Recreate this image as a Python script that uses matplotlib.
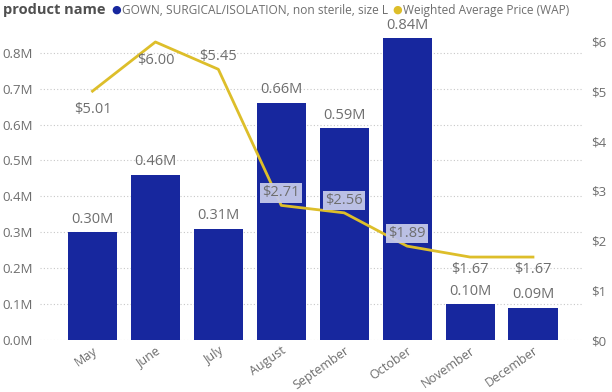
import numpy as np
import matplotlib.pyplot as plt

months = ["May", "June", "July", "August", "September", "October", "November", "December"]
quantity_m = [0.30, 0.46, 0.31, 0.66, 0.59, 0.84, 0.10, 0.09]
wap = [5.01, 6.00, 5.45, 2.71, 2.56, 1.89, 1.67, 1.67]
left_ticks = [0.0, 0.1, 0.2, 0.3, 0.4, 0.5, 0.6, 0.7, 0.8]
right_ticks = [0, 1, 2, 3, 4, 5, 6]

bar_color = "#17279E"
line_color = "#DDBE2A"
grey = "#6E6E6E"

plt.rcParams['font.family'] = ['Open Sans', 'DejaVu Sans']

fig = plt.figure(figsize=(6.12, 3.92), dpi=100)
# plot area spans x = 40..583 px, y = 38..340 px
ax = fig.add_axes([40 / 612, 52 / 392, 543 / 612, 302 / 392])
ax2 = ax.twinx()

x = np.arange(len(months))
ax.bar(x, quantity_m, width=0.78, color=bar_color, zorder=2)
ax.set_xlim(-0.834, 7.795)
ax.set_ylim(0, 0.841)
ax.set_yticks(left_ticks)
ax.set_yticklabels([f"{v:.1f}M" for v in left_ticks])
ax.grid(axis='y', linestyle=(0, (1, 2)), color="#C8C8C8", linewidth=0.8, zorder=0)
ax.set_xticks(x)
ax.set_xticklabels(months, rotation=35, ha='right', rotation_mode='anchor')

for a in (ax, ax2):
    for s in a.spines.values():
        s.set_visible(False)
    a.tick_params(length=0, colors=grey, labelsize=9.5)
ax.tick_params(axis='x', pad=3, labelsize=9)
ax.tick_params(axis='y', pad=5)

# bar data labels
for xi, v in zip(x, quantity_m):
    ax.annotate(f"{v:.2f}M", (xi, v), xytext=(0, 4), textcoords='offset points',
                ha='center', va='bottom', fontsize=10.5, color=grey, zorder=5)

ax2.plot(x, wap, color=line_color, linewidth=2, zorder=3)
ax2.set_ylim(0, 6.08)
ax2.set_yticks(right_ticks)
ax2.set_yticklabels([f"${v}" for v in right_ticks])
ax2.tick_params(axis='y', pad=6)

# line data labels: (offset in points, boxed)
label_pos = [(-13, False), (-13, False), (9, False), (9, True),
             (9, True), (9, True), (-9, False), (-9, False)]
for xi, v, (dy, boxed) in zip(x, wap, label_pos):
    kw = {}
    if boxed:
        kw['bbox'] = dict(boxstyle='square,pad=0.15', facecolor='#C5C9EA', edgecolor='none', alpha=0.95)
    ax2.annotate(f"${v:.2f}", (xi, v), xytext=(0, dy), textcoords='offset points',
                 ha='center', va='center', fontsize=10.5, color=grey, zorder=6, **kw)

# legend header, laid out left to right
renderer = fig.canvas.get_renderer()
items = [("product name", "#505050", 10.5, 'bold', 6),
         ("\u25CF", bar_color, 8, 'normal', 1),
         ("GOWN, SURGICAL/ISOLATION, non sterile, size L", grey, 8.6, 'normal', 4),
         ("\u25CF", line_color, 8, 'normal', 1),
         ("Weighted Average Price (WAP)", grey, 8.6, 'normal', 0)]
xpos = 3
for txt, col, fs, fw, gap in items:
    t = fig.text(xpos / 612, 0.974, txt, fontsize=fs, fontweight=fw, color=col, va='center')
    bb = t.get_window_extent(renderer)
    xpos += bb.width + gap

fig.savefig("out.png", dpi=100)
